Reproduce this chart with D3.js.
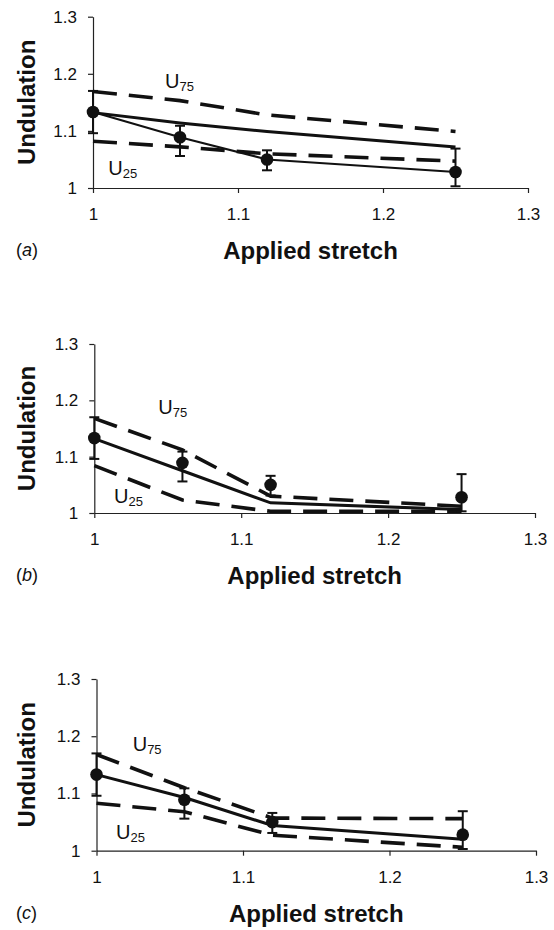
<!DOCTYPE html>
<html>
<head>
<meta charset="utf-8">
<script src="https://cdn.jsdelivr.net/npm/d3@7"></script>
<style>
  body { margin: 0; background: #fff; }
  svg { display: block; font-family: "Liberation Sans", Arial, sans-serif; }
  .axis path, .axis line { stroke: #222; stroke-width: 1.2; }
  .axis text { font-size: 17px; fill: #111; }
</style>
</head>
<body>
<svg></svg>
<script>
let width = 554, height = 930;

// measured undulation at each applied stretch (same in all 3 panels)
let stretch = [1, 1.06, 1.12, 1.25];
let measured = [1.133, 1.089, 1.05, 1.028];
let measuredHigh = [1.170, 1.109, 1.066, 1.069];
let measuredLow = [1.096, 1.056, 1.031, 1.003];

// model predictions, panel a / b / c
let modelA = [1.132, 1.114, 1.099, 1.072];
let u75A = [1.169, 1.153, 1.128, 1.099];
let u25A = [1.082, 1.072, 1.06, 1.047];

let modelB = [1.132, 1.075, 1.018, 1.006];
let u75B = [1.168, 1.112, 1.03, 1.012];
let u25B = [1.084, 1.023, 1.003, 1.003];

let modelC = [1.133, 1.093, 1.044, 1.02];
let u75C = [1.168, 1.11, 1.057, 1.056];
let u25C = [1.083, 1.068, 1.027, 1.006];

let tickValues = [1, 1.1, 1.2, 1.3];
let tickLabels = ["1", "1.1", "1.2", "1.3"];

// label anchors (data units): [x, y] for U75 and U25
let labelU75 = [[1.0497, 1.175], [1.0436, 1.1755], [1.0247, 1.174]];
let labelU25 = [[1.0106, 1.023], [1.0134, 1.018], [1.0133, 1.02]];

let panels = [
  { letter: "a", model: modelA, u75: u75A, u25: u25A, joinPoints: true,
    left: 93, right: 528, bottom: 188, top: 16.7 },
  { letter: "b", model: modelB, u75: u75B, u25: u25B, joinPoints: false,
    left: 94.3, right: 535, bottom: 513, top: 344 },
  { letter: "c", model: modelC, u75: u75C, u25: u25C, joinPoints: false,
    left: 96.5, right: 536, bottom: 850.7, top: 679 }
];

let svg = d3.select("svg")
  .attr("width", width)
  .attr("height", height);

panels.forEach(function(p, i) {
  let x = d3.scaleLinear().domain([1, 1.3]).range([p.left, p.right]);
  let y = d3.scaleLinear().domain([1, 1.3]).range([p.bottom, p.top]);
  let g = svg.append("g");

  //ejes
  g.append("g")
    .attr("class", "axis")
    .attr("transform", "translate(0," + p.bottom + ")")
    .call(d3.axisBottom(x).tickValues(tickValues)
      .tickFormat((d, k) => tickLabels[k])
      .tickSize(5).tickSizeOuter(0).tickPadding(15));

  g.append("g")
    .attr("class", "axis")
    .attr("transform", "translate(" + p.left + ",0)")
    .call(d3.axisLeft(y).tickValues(tickValues)
      .tickFormat((d, k) => tickLabels[k])
      .tickSize(5).tickSizeOuter(0).tickPadding(11));

  g.selectAll(".axis text").attr("font-family", null);

  let line = d3.line()
    .x((d, k) => x(stretch[k]))
    .y(d => y(d));

  // U75 / U25 dashed bounds
  [p.u75, p.u25].forEach(function(s) {
    g.append("path")
      .datum(s)
      .attr("d", line)
      .attr("fill", "none")
      .attr("stroke", "#111")
      .attr("stroke-width", 3.6)
      .attr("stroke-dasharray", "24,12");
  });

  // model line
  g.append("path")
    .datum(p.model)
    .attr("d", line)
    .attr("fill", "none")
    .attr("stroke", "#111")
    .attr("stroke-width", 3);

  if (p.joinPoints) {
    g.append("path")
      .datum(measured)
      .attr("d", line)
      .attr("fill", "none")
      .attr("stroke", "#111")
      .attr("stroke-width", 2);
  }

  // error bars
  let eb = g.selectAll(".err").data(measured).enter().append("g");
  eb.append("line")
    .attr("x1", (d, k) => x(stretch[k])).attr("x2", (d, k) => x(stretch[k]))
    .attr("y1", (d, k) => y(measuredLow[k])).attr("y2", (d, k) => y(measuredHigh[k]))
    .attr("stroke", "#111").attr("stroke-width", 2);
  [measuredLow, measuredHigh].forEach(function(arr) {
    eb.append("line")
      .attr("x1", (d, k) => x(stretch[k]) - 5).attr("x2", (d, k) => x(stretch[k]) + 5)
      .attr("y1", (d, k) => y(arr[k])).attr("y2", (d, k) => y(arr[k]))
      .attr("stroke", "#111").attr("stroke-width", 2);
  });

  g.selectAll(".pt").data(measured).enter().append("circle")
    .attr("cx", (d, k) => x(stretch[k]))
    .attr("cy", d => y(d))
    .attr("r", 6.3)
    .attr("fill", "#111");

  // U75 / U25 labels
  [["75", labelU75[i]], ["25", labelU25[i]]].forEach(function(l) {
    let t = g.append("text")
      .attr("x", x(l[1][0]))
      .attr("y", y(l[1][1]))
      .attr("font-size", 20)
      .attr("fill", "#111");
    t.append("tspan").text("U");
    t.append("tspan").attr("font-size", 13).attr("dy", 3).text(l[0]);
  });

  // axis titles
  g.append("text")
    .attr("x", (p.left + p.right) / 2)
    .attr("y", p.bottom + 71)
    .attr("text-anchor", "middle")
    .attr("font-size", 24)
    .attr("font-weight", "bold")
    .attr("fill", "#111")
    .text("Applied stretch");

  g.append("text")
    .attr("transform", "translate(35," + ((p.top + p.bottom) / 2) + ") rotate(-90)")
    .attr("text-anchor", "middle")
    .attr("font-size", 24)
    .attr("font-weight", "bold")
    .attr("fill", "#111")
    .text("Undulation");

  let lab = g.append("text")
    .attr("x", 16)
    .attr("y", p.bottom + 68)
    .attr("font-size", 18)
    .attr("fill", "#111");
  lab.append("tspan").text("(");
  lab.append("tspan").attr("font-style", "italic").text(p.letter);
  lab.append("tspan").text(")");
});
</script>
</body>
</html>
